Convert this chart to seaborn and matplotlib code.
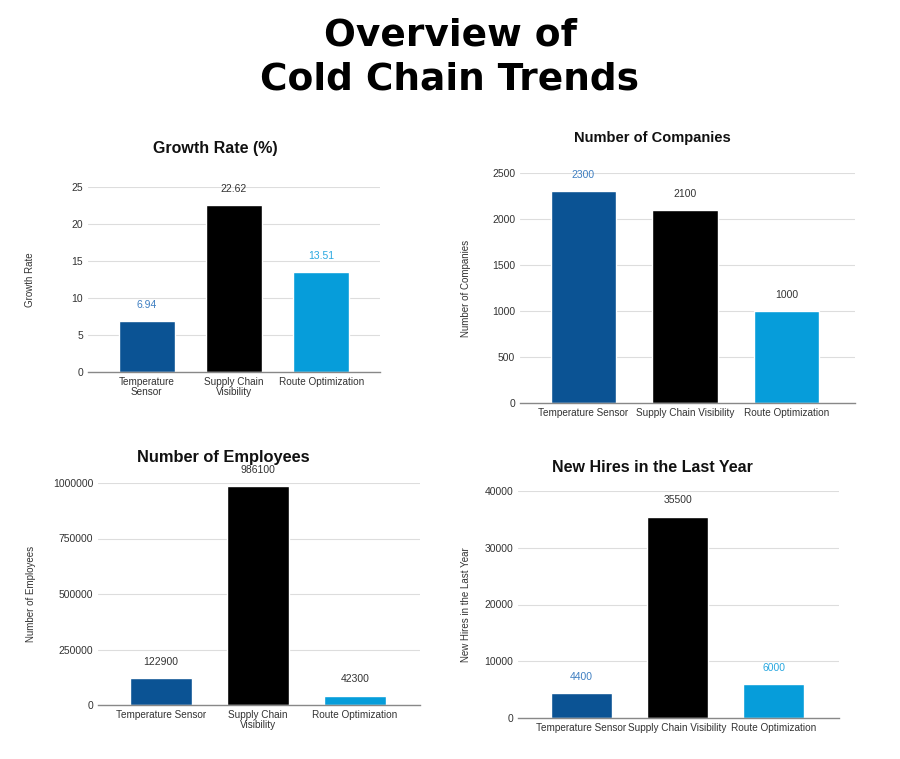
import matplotlib
matplotlib.use("Agg")
import matplotlib.pyplot as plt
import seaborn as sns
import pandas as pd

categories = ["Temperature Sensor", "Supply Chain Visibility", "Route Optimization"]
growth_rate = [6.94, 22.62, 13.51]
companies = [2300, 2100, 1000]
employees = [122900, 986100, 42300]
new_hires = [4400, 35500, 6000]

labels_growth = ["Temperature\nSensor", "Supply Chain\nVisibility", "Route Optimization"]
labels_companies = ["Temperature Sensor", "Supply Chain Visibility", "Route Optimization"]
labels_employees = ["Temperature Sensor", "Supply Chain\nVisibility", "Route Optimization"]
labels_hires = ["Temperature Sensor", "Supply Chain Visibility", "Route Optimization"]

bar_colors = ["#0b5394", "#000000", "#069dda"]
DARK_LBL = "#333333"
BLUE_LBL = "#3f7fc1"
LIGHT_LBL = "#2aa8e0"

sns.set_theme(style="white")
plt.rcParams["font.family"] = ["Liberation Sans", "DejaVu Sans"]

fig = plt.figure(figsize=(9, 7.59), dpi=100)
W, H = 900, 759

def make_ax(left, right, top, bottom):
    return fig.add_axes([left / W, 1 - bottom / H, (right - left) / W, (bottom - top) / H])

panels = [
    dict(box=(88, 380, 187, 372), vals=growth_rate, ticks=labels_growth, ymax=25, step=5,
         title="Growth Rate (%)", title_xy=(215, 148), title_fs=11.5, ylabel="Growth Rate", ylabel_x=30,
         lblc=[BLUE_LBL, DARK_LBL, LIGHT_LBL], xl=(-0.67, 2.67)),
    dict(box=(520, 855, 173, 403), vals=companies, ticks=labels_companies, ymax=2500, step=500,
         title="Number of Companies", title_xy=(652, 138), title_fs=10.5, ylabel="Number of Companies", ylabel_x=466,
         lblc=[BLUE_LBL, DARK_LBL, DARK_LBL], xl=(-0.62, 2.67)),
    dict(box=(98, 420, 483, 705), vals=employees, ticks=labels_employees, ymax=1000000, step=250000,
         title="Number of Employees", title_xy=(223, 457), title_fs=11.8, ylabel="Number of Employees", ylabel_x=31,
         lblc=[DARK_LBL, DARK_LBL, DARK_LBL], xl=(-0.65, 2.67)),
    dict(box=(518, 839, 491, 718), vals=new_hires, ticks=labels_hires, ymax=40000, step=10000,
         title="New Hires in the Last Year", title_xy=(652, 467), title_fs=11.5, ylabel="New Hires in the Last Year", ylabel_x=466,
         lblc=[BLUE_LBL, DARK_LBL, LIGHT_LBL], xl=(-0.66, 2.68)),
]

for p in panels:
    l, r, t, b = p["box"]
    ax = make_ax(l, r, t, b)
    df = pd.DataFrame({"cat": categories, "val": p["vals"]})
    sns.barplot(data=df, x="cat", y="val", hue="cat", palette=bar_colors, dodge=False,
                legend=False, width=0.64, ax=ax, saturation=1)
    ax.set_ylim(0, p["ymax"])
    ax.set_xlim(*p["xl"])
    yt = list(range(0, p["ymax"] + 1, p["step"]))
    ax.set_yticks(yt)
    ax.set_yticklabels([str(v) for v in yt], fontsize=7.5, color="#333333")
    ax.set_xticks(range(3))
    ax.set_xticklabels(p["ticks"], fontsize=7.2, color="#333333", linespacing=1.0)
    ax.tick_params(axis="both", length=0, pad=3.5)
    ax.grid(axis="y", color="#dddddd", linewidth=0.8)
    ax.set_axisbelow(True)
    for s in ["top", "right", "left"]:
        ax.spines[s].set_visible(False)
    ax.spines["bottom"].set_color("#888888")
    ax.spines["bottom"].set_linewidth(1.0)
    ax.set_xlabel("")
    ax.set_ylabel("")
    fig.text(p["ylabel_x"] / W, 1 - ((t + b) / 2) / H, p["ylabel"], rotation=90,
             ha="center", va="center", fontsize=7, color="#333333")
    tx, ty = p["title_xy"]
    fig.text(tx / W, 1 - ty / H, p["title"], ha="center", va="center",
             fontsize=p["title_fs"], fontweight="bold", color="#111111")
    texts = []
    for c in ax.containers:
        texts += ax.bar_label(c, fmt="%g", padding=8, fontsize=7.5)
    for txt, col in zip(texts, p["lblc"]):
        txt.set_color(col)

fig.text(0.5, 1 - 35 / H, "Overview of", ha="center", va="center", fontsize=27,
         fontweight="bold", family=["DejaVu Sans"], color="#000000")
fig.text(0.5, 1 - 80 / H, "Cold Chain Trends", ha="center", va="center", fontsize=27,
         fontweight="bold", family=["DejaVu Sans"], color="#000000")

fig.savefig("out.png", dpi=100, facecolor="white")
